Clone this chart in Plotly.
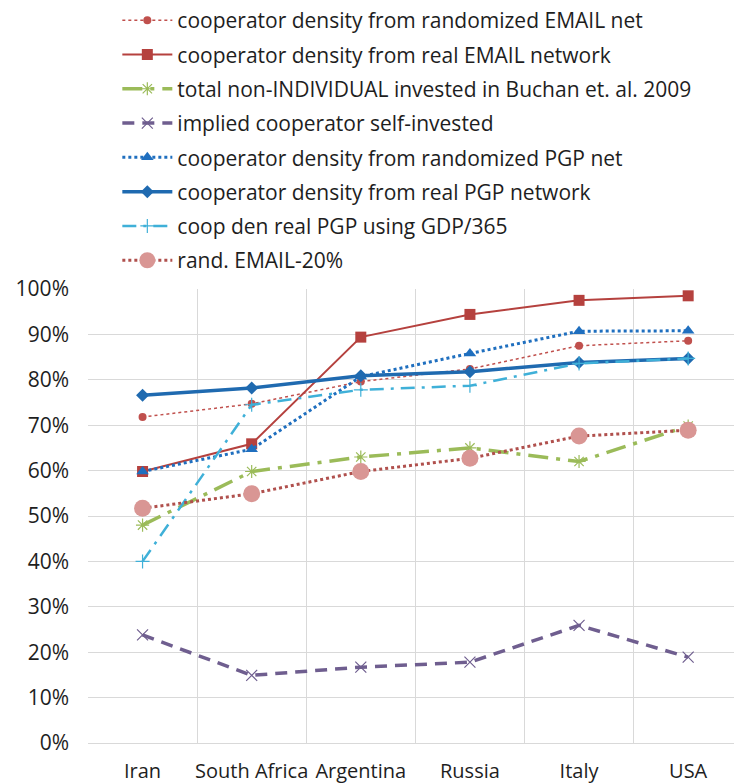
import plotly.graph_objects as go

COUNTRIES = ["Iran", "South Africa", "Argentina", "Russia", "Italy", "USA"]

RAND_EMAIL = [71.8, 74.7, 79.6, 82.4, 87.5, 88.6]
REAL_EMAIL = [59.8, 65.9, 89.4, 94.4, 97.5, 98.5]
NON_INDIVIDUAL = [48.0, 59.8, 63.0, 65.0, 62.0, 69.8]
SELF_INVESTED = [23.8, 14.9, 16.7, 17.8, 25.9, 18.9]
RAND_PGP = [59.8, 64.7, 80.7, 85.8, 90.7, 90.8]
REAL_PGP = [76.6, 78.2, 80.9, 81.8, 83.8, 84.7]
PGP_GDP = [40.0, 74.5, 77.8, 78.7, 83.6, 84.7]
RAND_EMAIL_20 = [51.7, 54.9, 59.8, 62.7, 67.6, 68.9]

Y_TICKS = list(range(0, 101, 10))
Y_LABELS = [f"{v}%" for v in Y_TICKS]

FONT = "Open Sans"
TEXT_COLOR = "#1e1e1e"

# figure is 784 tall; the plot area spans 289..743 px, the legend sits above it
# inside the paper area so it does not push the margins around
PLOT_TOP_FRAC = (743 - 289) / 743

series = [
    ("cooperator density from randomized EMAIL net", RAND_EMAIL,
     dict(color="#C0504D", width=1.5, dash="dot"),
     dict(symbol="circle", size=8, color="#C0504D")),
    ("cooperator density from real EMAIL network", REAL_EMAIL,
     dict(color="#B5413E", width=2),
     dict(symbol="square", size=11, color="#B5413E")),
    ("total non-INDIVIDUAL invested in Buchan et. al. 2009", NON_INDIVIDUAL,
     dict(color="#9BBB59", width=3.5, dash="20px,8px,4px,8px"),
     dict(symbol="asterisk-open", size=11, color="#9BBB59",
          line=dict(color="#9BBB59", width=1.2))),
    ("implied cooperator self-invested", SELF_INVESTED,
     dict(color="#6F5E8F", width=3.5, dash="12px,8px"),
     dict(symbol="x-thin-open", size=11, color="#6F5E8F",
          line=dict(color="#6F5E8F", width=1.2))),
    ("cooperator density from randomized PGP net", RAND_PGP,
     dict(color="#1F6FBF", width=3, dash="dot"),
     dict(symbol="triangle-up", size=11, color="#1F6FBF")),
    ("cooperator density from real PGP network", REAL_PGP,
     dict(color="#1F6AB0", width=3.5),
     dict(symbol="diamond", size=10, color="#1F6AB0")),
    ("coop den real PGP using GDP/365", PGP_GDP,
     dict(color="#3FB0D8", width=2.5, dash="14px,7px,3px,7px"),
     dict(symbol="cross-thin-open", size=10, color="#3FB0D8",
          line=dict(color="#3FB0D8", width=1.2))),
    ("rand. EMAIL-20%", RAND_EMAIL_20,
     dict(color="#B0504D", width=3, dash="dot"),
     dict(symbol="circle", size=17, color="#D99694")),
]

fig = go.Figure()
for i, (name, values, line, marker) in enumerate(series):
    # one legend group per trace so tracegroupgap spreads the rows out
    fig.add_trace(go.Scatter(
        x=COUNTRIES, y=values, name=name, mode="lines+markers",
        line=line, marker=marker, legendgroup=f"g{i}"
    ))

fig.update_layout(
    width=734, height=784,
    template="none",
    paper_bgcolor="white", plot_bgcolor="white",
    font=dict(family=FONT, size=20, color=TEXT_COLOR),
    margin=dict(l=88, r=0, t=0, b=41),
    showlegend=True,
    legend=dict(
        x=0.0454, y=1.0, xanchor="left", yanchor="top",
        font=dict(family=FONT, size=21, color=TEXT_COLOR),
        itemwidth=50, tracegroupgap=4, bgcolor="rgba(0,0,0,0)",
    ),
)

fig.update_xaxes(
    type="category", range=[-0.5, 5.42], tickson="boundaries",
    showgrid=True, gridcolor="#D9D9D9", gridwidth=1,
    showline=False, ticks="", automargin=False, tickangle=0,
    tickfont=dict(size=20), ticklabelstandoff=14,
)
fig.update_yaxes(
    domain=[0, PLOT_TOP_FRAC],
    range=[0, 100], tickmode="array", tickvals=Y_TICKS, ticktext=Y_LABELS,
    showgrid=True, gridcolor="#D9D9D9", gridwidth=1,
    zeroline=True, zerolinecolor="#D9D9D9", zerolinewidth=1,
    showline=False, ticks="", automargin=False,
    tickfont=dict(size=21), ticklabelstandoff=18,
)

# drop the default 8px body margin so the figure fills the window
fig.write_html(
    "out.html",
    config={"displayModeBar": False},
    post_script="document.body.style.margin = '0';",
)
